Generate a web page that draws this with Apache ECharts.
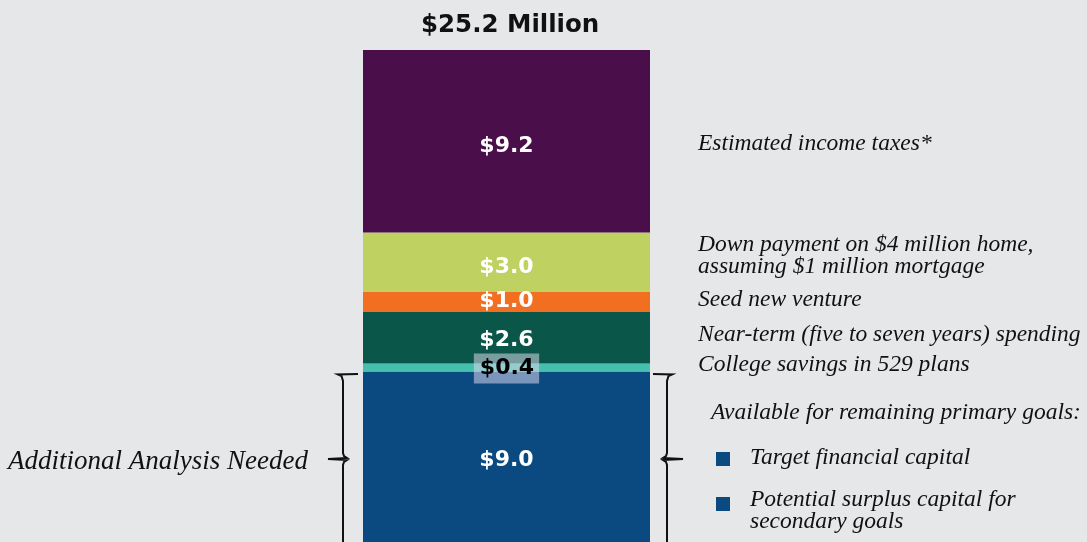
<!DOCTYPE html>
<html>
<head>
<meta charset="utf-8">
<script src="https://cdn.jsdelivr.net/npm/echarts@6/dist/echarts.min.js"></script>
<style>
  html, body { margin: 0; padding: 0; background: #e6e7e9; }
  #main { width: 1087px; height: 542px; }
</style>
</head>
<body>
<div id="main"></div>
<script>
// one stacked bar, segments listed bottom to top
var categories = ['Total'];
var segNames = ['Available for remaining primary goals', 'College savings in 529 plans',
  'Near-term (five to seven years) spending', 'Seed new venture',
  'Down payment on $4 million home', 'Estimated income taxes*'];
var segValues = [9.0, 0.4, 2.6, 1.0, 3.0, 9.2];
var segLabels = ['$9.0', '$0.4', '$2.6', '$1.0', '$3.0', '$9.2'];
var segColors = ['#0b4a80', '#45bfae', '#0a574a', '#f26f21', '#bfd160', '#4a0f4a'];
var totalLabel = '$25.2 Million';

// small vertical nudges for the value labels (px)
var labelNudge = [0, 1, 3, -1, 5, 5];

var chart = echarts.init(document.getElementById('main'));

var series = [];
for (var i = 0; i < segValues.length; i++) {
  var lbl = {
    show: true,
    position: 'inside',
    formatter: segLabels[i],
    color: '#ffffff',
    fontFamily: 'DejaVu Sans',
    fontWeight: 'bold',
    fontSize: 22,
    offset: [0, labelNudge[i]]
  };
  if (segValues[i] < 0.5) {
    // the thin teal slice gets a dark label on a pale box
    lbl.color = '#000000';
    lbl.backgroundColor = 'rgba(215,215,235,0.55)';
    lbl.padding = [5, 5, 3, 6];
  }
  series.push({
    name: segNames[i],
    type: 'bar',
    stack: 'total',
    barWidth: '100%',
    data: [segValues[i]],
    itemStyle: { color: segColors[i] },
    label: lbl,
    silent: true
  });
}

function note(x, y, txt, size) {
  return {
    type: 'text', x: x, y: y,
    style: {
      text: txt, font: 'italic ' + (size || 23.5) + 'px "Liberation Serif"',
      fill: '#111111', lineHeight: 22, verticalAlign: 'middle'
    }
  };
}
// curly bracket drawn as a polyline
function brace(xTop, xBar, xTip, yTop, yTip, yEnd) {
  var s = xTip < xBar ? -1 : 1;
  return {
    type: 'polyline',
    shape: { points: [
      [xTop, yTop], [xBar + s * 5, yTop + 0.5], [xBar + s * 1.5, yTop + 2], [xBar, yTop + 7],
      [xBar, yTip - 6], [xBar - s * 1, yTip - 3], [xBar - s * 4, yTip - 1], [xTip, yTip],
      [xBar - s * 4, yTip + 1], [xBar - s * 1, yTip + 3], [xBar, yTip + 6], [xBar, yEnd]
    ] },
    style: { fill: null, stroke: '#111111', lineWidth: 2 }
  };
}

var option = {
  backgroundColor: '#e6e7e9',
  animation: false,
  title: {
    text: totalLabel,
    left: 416, top: 8,
    textStyle: { fontFamily: 'DejaVu Sans', fontWeight: 'bold', fontSize: 24.5, color: '#111111' }
  },
  grid: { left: 363, width: 287, top: 50, height: 500, outerBoundsMode: 'none' },
  xAxis: { type: 'category', data: categories, show: false },
  yAxis: { type: 'value', min: 0, max: 25.2, show: false },
  series: series,
  graphic: [
    note(698, 144, 'Estimated income taxes*'),
    note(698, 256, 'Down payment on $4 million home,\nassuming $1 million mortgage'),
    note(698, 300, 'Seed new venture'),
    note(698, 335, 'Near-term (five to seven years) spending'),
    note(698, 365, 'College savings in 529 plans'),
    note(711, 413, 'Available for remaining primary goals:'),
    note(750, 458, 'Target financial capital'),
    note(750, 511, 'Potential surplus capital for\nsecondary goals'),
    note(8, 462, 'Additional Analysis Needed', 27),
    { type: 'rect', shape: { x: 716, y: 452, width: 14, height: 14 }, style: { fill: '#0b4a80' } },
    { type: 'rect', shape: { x: 716, y: 497, width: 14, height: 14 }, style: { fill: '#0b4a80' } },
    brace(358, 343, 328, 374, 459, 560),
    brace(653, 667, 683, 374, 459, 560)
  ]
};

chart.setOption(option);
</script>
</body>
</html>
